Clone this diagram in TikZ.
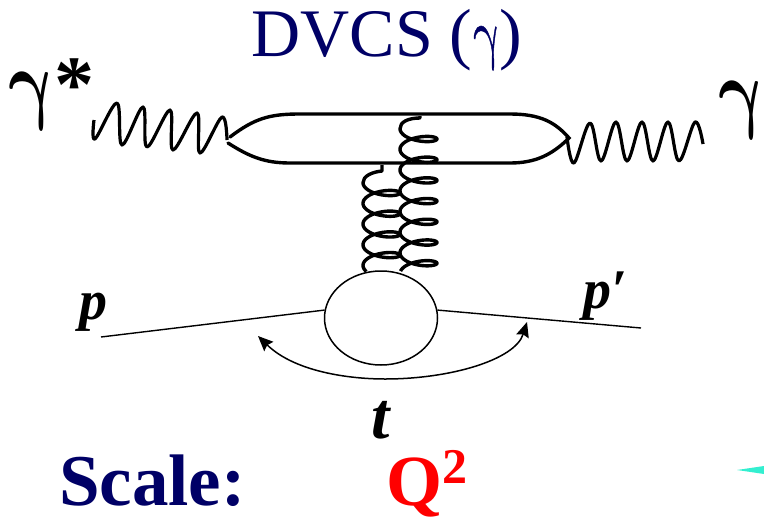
\documentclass[tikz,border=0pt]{standalone}
\usepackage{fontspec}
\setmainfont{Liberation Serif}
\newfontfamily\lmm[FakeBold=0.8]{Latin Modern Math}
\usetikzlibrary{arrows.meta,shapes.geometric}
\definecolor{navy}{RGB}{0,0,102}
\definecolor{teal2}{RGB}{51,239,208}
\newcommand{\fs}[1]{\fontsize{#1}{#1}\selectfont}
\newcommand{\biggamma}{\scalebox{6.8}[9]{\boldmath$\gamma$}}
\tikzset{
  photon/.style={line width=3.2pt,line join=round},
  quark/.style={line width=3.4pt,line cap=round},
  gluon/.style={line width=3.4pt,line join=round},
  proton/.style={line width=1.4pt},
  blobstyle/.style={draw,ellipse,line width=1.5pt,minimum width=113pt,minimum height=94pt,inner sep=0pt},
  lbl/.style={inner sep=0pt,font=\bfseries\itshape},
  bigg/.style={inner sep=0pt,xslant=-0.18},
  transfer/.style={line width=1.5pt,{Stealth[length=15pt,width=13pt,inset=2pt]}-{Stealth[length=15pt,width=13pt,inset=2pt]}}
}
\begin{document}
\begin{tikzpicture}[x=1pt,y=-1pt]
\useasboundingbox (0,0) rectangle (764,520);
\fill[teal2] (737,470) -- (764,466) -- (764,474) -- cycle;
% texts
\node[inner sep=0pt,text=navy,anchor=base] (title) at (387,56) {\fs{68}DVCS (\scalebox{.68}[1]{\lmm γ})};
\node[bigg] (gstar) at (34,101) {\biggamma};
\node[inner sep=0pt,font=\bfseries] (star) at (74,85) {\fs{80}*};
\node[bigg] (gout) at (744,110) {\biggamma};
\node[lbl] (p) at (93,312) {\fs{56}p};
\node[lbl] (pp) at (605,296) {\fs{56}p′};
\node[lbl] (t) at (381,420) {\fs{66}t};
\node[inner sep=0pt,font=\bfseries,text=navy,anchor=base west] (scale) at (59,505) {\fs{73}Scale:};
\node[inner sep=0pt,font=\bfseries,text=red,anchor=base west] (q) at (386,505) {\fs{72}Q\raisebox{22pt}{\fs{50}2}};
% blob
\node[blobstyle] (blob) at (381,318) {};
% quark loop
\coordinate (qlt) at (230,137);
\coordinate (qlb) at (228,143);
\coordinate (qr) at (569,138);
\draw[quark] (qlt) .. controls (255,118) and (270,114) .. (300,114) -- (510,114) .. controls (540,114) and (555,122) .. (qr)
  .. controls (552,155) and (535,163) .. (510,163) -- (290,163) .. controls (265,163) and (250,157) .. (qlb);
% photons
\coordinate (phL) at (94,120);
\coordinate (phR) at (703,144);
\draw[photon] plot[smooth,tension=.6] coordinates {(phL) (95,139) (117,103) (122,145)(143,107)(147,147)(170,110)(173,150)(197,113)(200,153)(222,117)(227,140)};
\draw[photon] plot[smooth,tension=.6] coordinates {(567,137) (574,163) (590,123) (601,161) (616,122) (627,161) (642,122) (653,161) (668,122) (679,161) (695,122) (phR)};
% gluons
\coordinate (g1t) at (420,116);
\coordinate (g1b) at (400,128.7);
\coordinate (g2t) at (382,165);
\coordinate (g2b) at (363,182.7);
\draw[gluon] (g1t) -- (420,118) .. controls (408,118) and (400,122) .. (g1b)
  -- plot[domain=-3.1416:40.6,samples=320,smooth,variable=\t] ({418.5+18.5*cos(\t r)},{139+3.295*\t-7*sin(\t r)});
\draw[gluon] (g2t) -- (382,171) .. controls (372,172) and (363,176) .. (g2b)
  -- plot[domain=-3.1416:22.6,samples=200,smooth,variable=\t] ({381.5+18.5*cos(\t r)},{193+3.295*\t-7*sin(\t r)});
% protons
\coordinate (pin) at (101,337);
\coordinate (pout) at (641,328);
\draw[proton] (pin) -- (blob.172);
\draw[proton] (blob.8) -- (pout);
\coordinate (ta) at (258,336);
\coordinate (tb) at (527,322);
\draw[transfer] (ta) .. controls (295,372) and (350,379) .. (385,379) .. controls (450,379) and (515,360) .. (tb);
\end{tikzpicture}
\end{document}
